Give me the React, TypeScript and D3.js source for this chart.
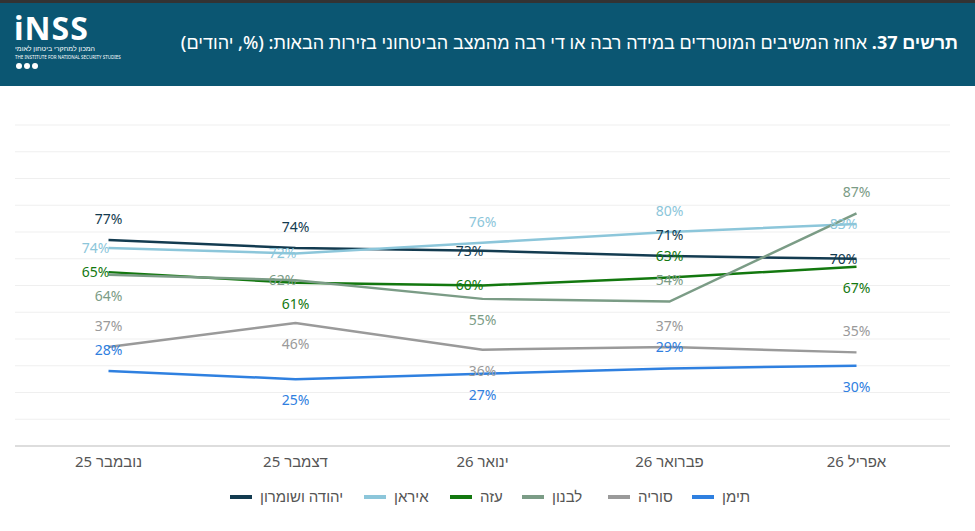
import React from "react";
import * as d3 from "d3";

const months = ["נובמבר 25", "דצמבר 25", "ינואר 26", "פברואר 26", "אפריל 26"];
const seriesNames = ["יהודה ושומרון", "איראן", "עזה", "לבנון", "סוריה", "תימן"];
const seriesColors = ["#133b50", "#8cc6da", "#13780f", "#7b9c86", "#9a9a9a", "#2f80e0"];
const judeaSamaria = [77, 74, 73, 71, 70];
const iran = [74, 72, 76, 80, 83];
const gaza = [65, 61, 60, 63, 67];
const lebanon = [64, 62, 55, 54, 87];
const syria = [37, 46, 36, 37, 35];
const yemen = [28, 25, 27, 29, 30];
// label placement: a = above, b = below, c = on the line
const labelPlace = [
  ["a", "a", "c", "a", "c"],
  ["c", "c", "a", "a", "c"],
  ["c", "b", "c", "a", "b"],
  ["b", "c", "b", "a", "a"],
  ["a", "b", "b", "a", "a"],
  ["a", "b", "b", "a", "b"],
];

const W = 975;
const H = 531;
const x = d3.scaleBand<string>().domain(months).range([15, 950]);
const y = d3.scaleLinear().domain([0, 120]).range([446, 125]);
const font = "'Noto Sans', sans-serif";

export default function App() {
  const all = [judeaSamaria, iran, gaza, lebanon, syria, yemen];
  const line = d3
    .line<number>()
    .x((_, i) => x(months[i])! + x.bandwidth() / 2)
    .y((d) => y(d));
  const legendX = [230, 364, 450, 522, 608, 692];
  return (
    <svg width={W} height={H} style={{ position: "absolute", left: 0, top: 0, fontFamily: font }}>
      <rect width={W} height={H} fill="#fff" />
      <rect width={W} height={86} fill="#0b5672" />
      <rect width={W} height={3} fill="#333" />
      <text x={14} y={40} fill="#fff" fontSize={32} fontWeight={700} letterSpacing={1}>
        iNSS
      </text>
      <text x={15} y={51} fill="#fff" fontSize={7}>המכון למחקרי ביטחון לאומי</text>
      <text x={15} y={59} fill="#fff" fontSize={4.5}>THE INSTITUTE FOR NATIONAL SECURITY STUDIES</text>
      {[0, 1, 2].map((i) => (
        <circle key={i} cx={19 + i * 8} cy={66} r={3} fill="#fff" />
      ))}
      <text x={958} y={49} fill="#fff" fontSize={18} fontWeight={500} textAnchor="start" direction="rtl">
        <tspan fontWeight={700}>תרשים 37.</tspan> אחוז המשיבים המוטרדים במידה רבה או די רבה מהמצב הביטחוני בזירות הבאות: (%, יהודים)
      </text>
      {d3.range(10, 130, 10).map((t) => (
        <line key={t} x1={15} x2={950} y1={y(t)} y2={y(t)} stroke="#efefef" />
      ))}
      <line x1={15} x2={950} y1={y(0)} y2={y(0)} stroke="#bbb" />
      {months.map((m) => (
        <text key={m} x={x(m)! + x.bandwidth() / 2} y={467} textAnchor="middle" fontSize={15} fill="#555" direction="rtl">
          {m}
        </text>
      ))}
      {all.map((s, si) => (
        <path key={si} d={line(s)!} fill="none" stroke={seriesColors[si]} strokeWidth={2.5} />
      ))}
      {all.map((s, si) =>
        s.map((v, i) => {
          const p = labelPlace[si][i];
          const cx = x(months[i])! + x.bandwidth() / 2 + (p === "c" ? -13 : 0);
          const cy = y(v) + (p === "a" ? -21 : p === "b" ? 21 : 0);
          return (
            <text key={si + "-" + i} x={cx} y={cy} dy="0.35em" textAnchor="middle" fontSize={14} fill={seriesColors[si]}>
              {v}%
            </text>
          );
        })
      )}
      {seriesNames.map((n, i) => (
        <g key={n} transform={`translate(${legendX[i]},497)`}>
          <rect x={0} y={-2} width={22} height={4} fill={seriesColors[i]} />
          <text x={30} y={0} dy="0.35em" fontSize={15} fill="#555">
            {n}
          </text>
        </g>
      ))}
    </svg>
  );
}
